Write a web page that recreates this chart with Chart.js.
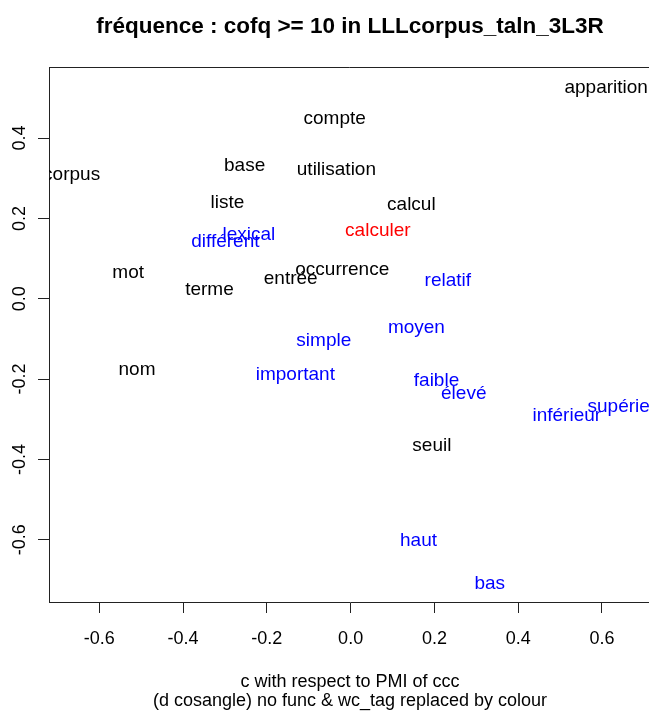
<!DOCTYPE html>
<html>
<head>
<meta charset="utf-8">
<script src="https://cdn.jsdelivr.net/npm/chart.js@4.4.1/dist/chart.umd.min.js"></script>
<style>
  html, body { margin: 0; padding: 0; background: #fff; overflow: hidden; }
  canvas { display: block; }
</style>
</head>
<body>
<canvas id="myChart" width="651" height="711"></canvas>
<script>
// words drawn in black
const blackWords = ["apparition", "compte", "corpus", "base", "utilisation", "liste", "calcul",
  "mot", "occurrence", "entrée", "terme", "nom", "seuil"];
const blackX = [0.610, -0.038, -0.666, -0.253, -0.034, -0.294, 0.145, -0.531, -0.020, -0.143, -0.337, -0.510, 0.194];
const blackY = [0.525, 0.449, 0.308, 0.331, 0.321, 0.238, 0.233, 0.064, 0.073, 0.051, 0.023, -0.178, -0.366];

// words drawn in blue
const blueWords = ["différent", "lexical", "relatif", "moyen", "simple", "important", "faible",
  "élevé", "inférieur", "supérieur", "haut", "bas"];
const blueX = [-0.299, -0.243, 0.232, 0.157, -0.064, -0.132, 0.205, 0.270, 0.516, 0.660, 0.162, 0.332];
const blueY = [0.142, 0.160, 0.044, -0.071, -0.105, -0.190, -0.204, -0.236, -0.291, -0.269, -0.603, -0.709];

// word drawn in red
const redWords = ["calculer"];
const redX = [0.065];
const redY = [0.169];

const xTicks = [-0.6, -0.4, -0.2, 0.0, 0.2, 0.4, 0.6];
const yTicks = [-0.6, -0.4, -0.2, 0.0, 0.2, 0.4];

const mainTitle = "fréquence : cofq >= 10 in LLLcorpus_taln_3L3R";
const xTitle = ["c with respect to PMI of ccc", "(d cosangle) no func & wc_tag replaced by colour"];

const FONT = "'Liberation Sans', Arial, sans-serif";
const LINE = "#222";

function points(xs, ys) {
  return xs.map((x, i) => ({ x: x, y: ys[i] }));
}

// writes each word centred on its point, clipped to the plot box
const wordLabels = {
  id: "wordLabels",
  afterDatasetsDraw(chart) {
    const ctx = chart.ctx;
    const area = chart.chartArea;
    ctx.save();
    ctx.beginPath();
    ctx.rect(area.left, area.top, area.right - area.left, area.bottom - area.top);
    ctx.clip();
    ctx.font = "19px " + FONT;
    ctx.textAlign = "center";
    ctx.textBaseline = "middle";
    chart.data.datasets.forEach((ds, i) => {
      const meta = chart.getDatasetMeta(i);
      ctx.fillStyle = ds.textColor;
      meta.data.forEach((pt, j) => {
        ctx.fillText(ds.words[j], pt.x, pt.y);
      });
    });
    ctx.restore();
  },
};

// box top/right, main title over the plot, rotated y tick labels
const rStyle = {
  id: "rStyle",
  afterDraw(chart) {
    const ctx = chart.ctx;
    const area = chart.chartArea;
    ctx.save();
    ctx.strokeStyle = LINE;
    ctx.lineWidth = 1;
    ctx.beginPath();
    ctx.moveTo(area.left, area.top + 0.5);
    ctx.lineTo(area.right - 0.5, area.top + 0.5);
    ctx.lineTo(area.right - 0.5, area.bottom);
    ctx.stroke();

    ctx.fillStyle = "#000";
    ctx.textAlign = "center";
    ctx.textBaseline = "middle";
    ctx.font = "bold 22.5px " + FONT;
    ctx.fillText(mainTitle, (area.left + area.right) / 2, 27);

    const yScale = chart.scales.y;
    ctx.font = "18px " + FONT;
    yScale.ticks.forEach((t) => {
      const py = yScale.getPixelForValue(t.value);
      ctx.save();
      ctx.translate(20, py);
      ctx.rotate(-Math.PI / 2);
      ctx.fillText(t.value.toFixed(1), 0, 0);
      ctx.restore();
    });
    ctx.restore();
  },
};

let ctx = document.getElementById("myChart");
new Chart(ctx, {
  type: "scatter",
  data: {
    datasets: [
      { words: blackWords, textColor: "#000000", data: points(blackX, blackY) },
      { words: blueWords, textColor: "#0000FF", data: points(blueX, blueY) },
      { words: redWords, textColor: "#FF0000", data: points(redX, redY) },
    ],
  },
  options: {
    responsive: false,
    animation: false,
    events: [],
    layout: { padding: { top: 67, left: 0, right: 0, bottom: 0 } },
    elements: { point: { radius: 0, hoverRadius: 0 } },
    plugins: {
      legend: { display: false },
      tooltip: { enabled: false },
      title: { display: false },
    },
    scales: {
      x: {
        type: "linear",
        min: -0.720,
        max: 0.717,
        afterBuildTicks: (scale) => {
          scale.ticks = xTicks.map((v) => ({ value: v }));
        },
        afterFit: (scale) => {
          scale.height = 109;
        },
        ticks: {
          color: "#000",
          font: { family: FONT, size: 18 },
          padding: 15,
          maxRotation: 0,
          callback: (v) => Number(v).toFixed(1),
        },
        grid: { drawOnChartArea: false, tickLength: 11, color: LINE, lineWidth: 1 },
        border: { display: true, color: LINE, width: 1 },
        title: {
          display: true,
          text: xTitle,
          color: "#000",
          font: { family: FONT, size: 18, lineHeight: 1.08 },
          padding: { top: 0, bottom: 0 },
        },
      },
      y: {
        type: "linear",
        min: -0.755,
        max: 0.577,
        afterBuildTicks: (scale) => {
          scale.ticks = yTicks.map((v) => ({ value: v }));
        },
        afterFit: (scale) => {
          scale.width = 49;
        },
        ticks: { display: false },
        grid: { drawOnChartArea: false, tickLength: 11, color: LINE, lineWidth: 1 },
        border: { display: true, color: LINE, width: 1 },
      },
    },
  },
  plugins: [wordLabels, rStyle],
});
</script>
</body>
</html>
